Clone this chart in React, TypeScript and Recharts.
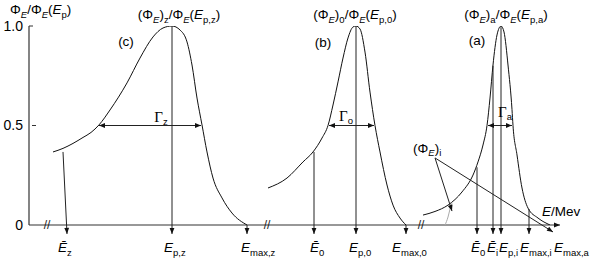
import React from 'react';
import { ComposedChart, Line, XAxis, YAxis, ReferenceLine, ReferenceDot } from 'recharts';

// energy axis in arbitrary units (axis breaks make it non-physical anyway)
type Pt = { e: number; v: number };

// (c) broad spectrum, thick target
const curveZ: Pt[] = [
  { e: 24, v: 0.367 }, { e: 34, v: 0.385 }, { e: 44, v: 0.41 }, { e: 54, v: 0.44 },
  { e: 62, v: 0.465 }, { e: 70, v: 0.503 }, { e: 81, v: 0.578 }, { e: 98, v: 0.714 },
  { e: 111, v: 0.839 }, { e: 124, v: 0.945 }, { e: 134, v: 0.99 }, { e: 143, v: 1.0 },
  { e: 151, v: 0.98 }, { e: 158, v: 0.92 }, { e: 163, v: 0.804 }, { e: 168, v: 0.638 },
  { e: 173, v: 0.503 }, { e: 178, v: 0.367 }, { e: 184, v: 0.236 }, { e: 193, v: 0.136 },
  { e: 203, v: 0.06 }, { e: 218, v: 0.0 },
];

// (b) spectrum at the exit, o
const curveO: Pt[] = [
  { e: 239, v: 0.186 }, { e: 258, v: 0.236 }, { e: 274, v: 0.317 }, { e: 284, v: 0.367 },
  { e: 293, v: 0.437 }, { e: 299, v: 0.5 }, { e: 304, v: 0.603 }, { e: 309, v: 0.719 },
  { e: 314, v: 0.839 }, { e: 319, v: 0.94 }, { e: 324, v: 0.995 }, { e: 327, v: 1.0 },
  { e: 331, v: 0.985 }, { e: 336, v: 0.869 }, { e: 341, v: 0.668 }, { e: 346, v: 0.5 },
  { e: 351, v: 0.367 }, { e: 358, v: 0.201 }, { e: 364, v: 0.1 }, { e: 371, v: 0.035 },
  { e: 377, v: 0.0 },
];

// (a) accelerator spectrum
const curveA: Pt[] = [
  { e: 394, v: 0.05 }, { e: 406, v: 0.068 }, { e: 419, v: 0.1 }, { e: 433, v: 0.166 },
  { e: 444, v: 0.251 }, { e: 449, v: 0.317 }, { e: 454, v: 0.402 }, { e: 458, v: 0.5 },
  { e: 461, v: 0.638 }, { e: 464, v: 0.804 }, { e: 468, v: 0.955 }, { e: 472, v: 1.0 },
  { e: 475, v: 0.97 }, { e: 479, v: 0.804 }, { e: 483, v: 0.58 }, { e: 484, v: 0.5 },
  { e: 488, v: 0.352 }, { e: 493, v: 0.186 }, { e: 499, v: 0.085 }, { e: 509, v: 0.035 },
  { e: 521, v: 0.0 },
];

// tiny incident-beam spectrum (Φ_E)_i
const curveI: Pt[] = [
  { e: 416, v: 0.0 }, { e: 419, v: 0.04 }, { e: 421, v: 0.08 }, { e: 423, v: 0.11 },
];

// [e1, v1, e2, v2]
const dropArrows: number[][] = [
  [34, 0.367, 38, -0.045], [143, 1.0, 143, -0.045], [218, 0, 218, -0.045],
  [285, 0.367, 285, -0.045], [327, 1.0, 327, -0.045], [377, 0, 377, -0.045],
  [448, 0.29, 448, -0.045], [464, 0.8, 464, -0.045], [472, 1.0, 472, -0.045],
  [500, 0.08, 500, -0.045],
];
const widthArrows: number[][] = [
  [70, 0.5, 172, 0.5], [300, 0.5, 345, 0.5], [459, 0.5, 483, 0.5],
];
const pointerArrows: number[][] = [
  [406, 0.337, 423, 0.07], [406, 0.337, 524, -0.035],
];
const axisBreaks = [18, 238, 392];

const yTicks = [0, 0.5, 1];
const yTickText: Record<number, string> = { 0: '0', 0.5: '0.5', 1: '1.0' };

// text: *X italic char, #X serif char, _{..} subscript
const notes: { e: number; v: number; t: string; a?: 'start' | 'middle' }[] = [
  { e: -19, v: 1.058, t: 'Φ_{*E}/Φ_{*E}(*E_{p})', a: 'start' },
  { e: 150, v: 1.035, t: '(Φ_{*E})_{z}/Φ_{*E}(*E_{p,z})' },
  { e: 326, v: 1.035, t: '(Φ_{*E})_{0}/Φ_{*E}(*E_{p,0})' },
  { e: 477, v: 1.035, t: '(Φ_{*E})_{a}/Φ_{*E}(*E_{p,a})' },
  { e: 97, v: 0.9, t: '(c)' },
  { e: 294, v: 0.894, t: '(b)' },
  { e: 448, v: 0.905, t: '(a)' },
  { e: 132, v: 0.518, t: '#Γ_{z}' },
  { e: 317, v: 0.523, t: '#Γ_{o}' },
  { e: 476, v: 0.543, t: '#Γ_{a}' },
  { e: 384, v: 0.362, t: '(Φ_{*E})_{i}', a: 'start' },
  { e: 513, v: 0.045, t: '*E/Mev', a: 'start' },
  { e: 29, v: -0.136, t: '*Ē_{z}', a: 'start' },
  { e: 135, v: -0.136, t: '*E_{p,z}', a: 'start' },
  { e: 212, v: -0.136, t: '*E_{max,z}', a: 'start' },
  { e: 281, v: -0.136, t: '*Ē_{0}', a: 'start' },
  { e: 320, v: -0.136, t: '*E_{p,0}', a: 'start' },
  { e: 363, v: -0.136, t: '*E_{max,0}', a: 'start' },
  { e: 442, v: -0.136, t: '*Ē_{0}', a: 'start' },
  { e: 458, v: -0.136, t: '*Ē_{i}', a: 'start' },
  { e: 470, v: -0.136, t: '*E_{p,i}', a: 'start' },
  { e: 491, v: -0.136, t: '*E_{max,i}', a: 'start' },
  { e: 525, v: -0.136, t: '*E_{max,a}', a: 'start' },
];

const FONT = '"Liberation Sans", Arial, sans-serif';
const INK = '#111';

type Seg = { t: string; sub: boolean; it?: boolean; serif?: boolean };
function parse(s: string): Seg[] {
  const out: Seg[] = [];
  let sub = false;
  for (let i = 0; i < s.length; i++) {
    const c = s[i];
    if (c === '_' && s[i + 1] === '{') { sub = true; i++; continue; }
    if (c === '}' && sub) { sub = false; continue; }
    if (c === '*' || c === '#') {
      out.push({ t: s[i + 1], sub, it: c === '*', serif: c === '#' });
      i++;
      continue;
    }
    const last = out[out.length - 1];
    if (last && !last.it && !last.serif && last.sub === sub) last.t += c;
    else out.push({ t: c, sub });
  }
  return out;
}

const RichText = ({ x, y, t, anchor }: { x: number; y: number; t: string; anchor: string }) => {
  let cur = 0;
  return (
    <text x={x} y={y} textAnchor={anchor} fontFamily={FONT} fontSize={13.5} fill="#000">
      {parse(t).map((s, i) => {
        const off = s.sub ? 3.5 : 0;
        const dy = off - cur;
        cur = off;
        return (
          <tspan
            key={i}
            dy={dy}
            fontSize={s.sub ? 9.5 : s.serif ? 15 : 13.5}
            fontStyle={s.it ? 'italic' : 'normal'}
            fontFamily={s.serif ? '"Liberation Serif", serif' : FONT}
          >
            {s.t}
          </tspan>
        );
      })}
    </text>
  );
};

const head = (xa: number, ya: number, xb: number, yb: number, L = 6, W = 2.4) => {
  const a = Math.atan2(yb - ya, xb - xa);
  const bx = xb - L * Math.cos(a);
  const by = yb - L * Math.sin(a);
  const px = -Math.sin(a) * W;
  const py = Math.cos(a) * W;
  return <polygon points={`${xb},${yb} ${bx + px},${by + py} ${bx - px},${by - py}`} fill={INK} />;
};

const arrowShape = (both: boolean, color = '#222', w = 1) => (p: any) => {
  const { x1, y1, x2, y2 } = p;
  return (
    <g>
      <line x1={x1} y1={y1} x2={x2} y2={y2} stroke={color} strokeWidth={w} />
      {head(x1, y1, x2, y2)}
      {both && head(x2, y2, x1, y1)}
    </g>
  );
};

const App = () => {
  return (
    <div style={{ position: 'absolute', left: 0, top: 0, background: '#fff' }}>
      <ComposedChart width={593} height={261} margin={{ top: 26, right: 28, bottom: 36, left: 0 }}>
        <XAxis type="number" dataKey="e" domain={[0, 536]} hide allowDataOverflow />
        <YAxis
          type="number"
          domain={[0, 1]}
          ticks={yTicks}
          width={29}
          tickLine={false}
          tickMargin={0}
          tickFormatter={(v: number) => yTickText[v] ?? String(v)}
          tick={{ fontSize: 14, fill: '#000', fontFamily: FONT }}
          axisLine={{ stroke: '#333', strokeWidth: 1.2 }}
          allowDataOverflow
        />

        {/* x axis with arrow */}
        <ReferenceLine
          segment={[{ x: 0, y: 0 }, { x: 531, y: 0 }]}
          ifOverflow="visible"
          shape={arrowShape(false, '#333', 1.2)}
        />
        <ReferenceLine segment={[{ x: 0, y: 1 }, { x: 4, y: 1 }]} stroke="#333" ifOverflow="visible" />
        <ReferenceLine segment={[{ x: 3, y: 0.5 }, { x: 7, y: 0.5 }]} stroke="#333" ifOverflow="visible" />

        {[curveZ, curveO, curveA].map((d, i) => (
          <Line
            key={i}
            data={d}
            dataKey="v"
            type="monotone"
            stroke={INK}
            strokeWidth={1}
            dot={false}
            activeDot={false}
            isAnimationActive={false}
          />
        ))}
        <Line data={curveI} dataKey="v" type="monotone" stroke="#aaa" strokeWidth={1} dot={false} activeDot={false} isAnimationActive={false} />

        {dropArrows.map(([a, b, c, d], i) => (
          <ReferenceLine key={`d${i}`} segment={[{ x: a, y: b }, { x: c, y: d }]} ifOverflow="visible" shape={arrowShape(false)} />
        ))}
        {widthArrows.map(([a, b, c, d], i) => (
          <ReferenceLine key={`w${i}`} segment={[{ x: a, y: b }, { x: c, y: d }]} ifOverflow="visible" shape={arrowShape(true)} />
        ))}
        {pointerArrows.map(([a, b, c, d], i) => (
          <ReferenceLine key={`p${i}`} segment={[{ x: a, y: b }, { x: c, y: d }]} ifOverflow="visible" shape={arrowShape(false)} />
        ))}

        {axisBreaks.map((e, i) => (
          <ReferenceDot
            key={`b${i}`}
            x={e}
            y={0}
            r={0}
            fill="none"
            stroke="none"
            ifOverflow="visible"
            label={(p: any) => (
              <text x={p.viewBox.x} y={p.viewBox.y + 4} textAnchor="middle" fontFamily={FONT} fontSize={12} fill="#222">
                //
              </text>
            )}
          />
        ))}

        {notes.map((n, i) => (
          <ReferenceDot
            key={`n${i}`}
            x={n.e}
            y={n.v}
            r={0}
            fill="none"
            stroke="none"
            ifOverflow="visible"
            label={(p: any) => <RichText x={p.viewBox.x} y={p.viewBox.y} t={n.t} anchor={n.a ?? 'middle'} />}
          />
        ))}
      </ComposedChart>
    </div>
  );
};

export default App;
